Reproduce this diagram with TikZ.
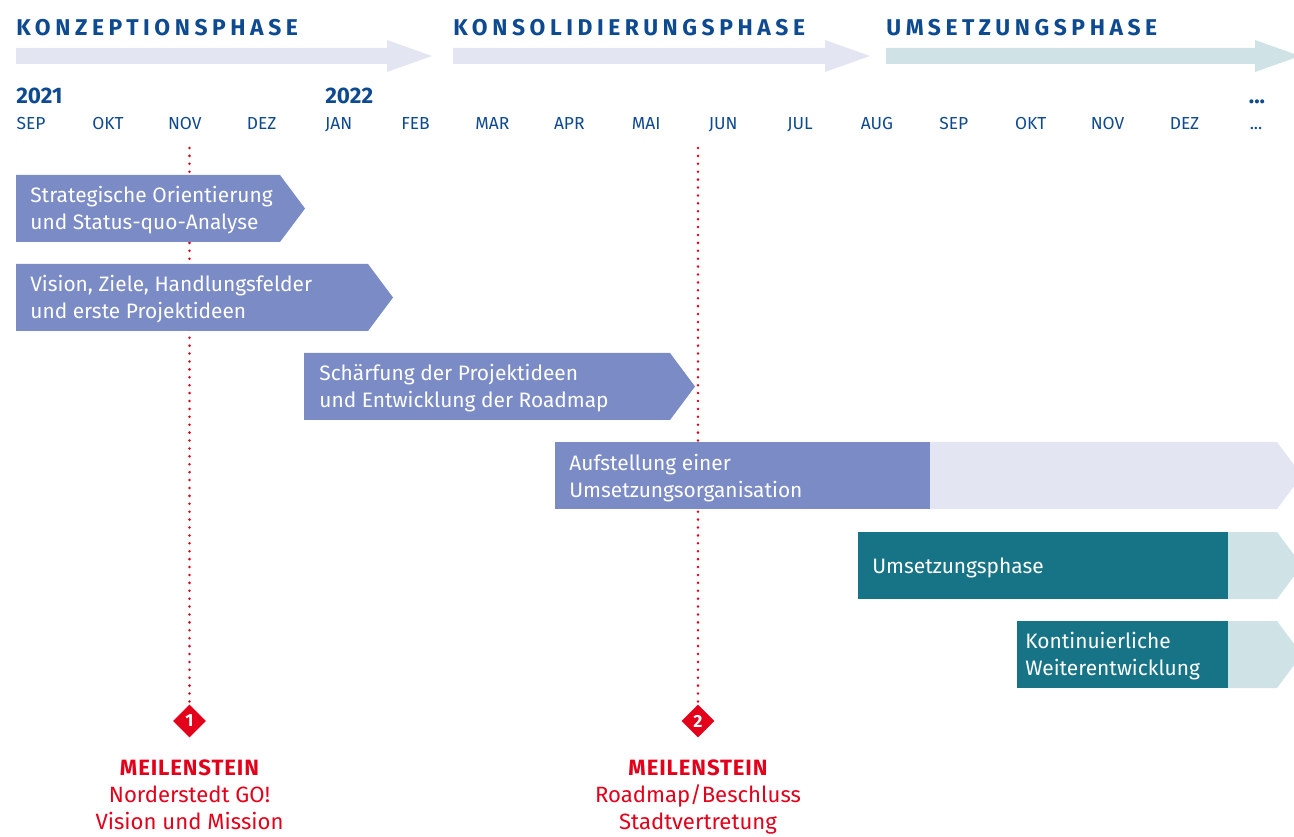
\documentclass[tikz,border=0pt]{standalone}
\usepackage{fontspec}
\setmainfont{Fira Sans}
\newfontfamily\phasefont[LetterSpace=20]{Fira Sans}
\newfontfamily\stonefont[LetterSpace=4]{Fira Sans}
\usetikzlibrary{positioning, shapes.geometric}
\definecolor{kblue}{HTML}{0E4A90}
\definecolor{kred}{HTML}{E2001A}
\definecolor{kpurple}{HTML}{7A8BC6}
\definecolor{klavender}{HTML}{E3E6F2}
\definecolor{kteal}{HTML}{177487}
\definecolor{klightteal}{HTML}{CFE3E7}
\tikzset{
  phaselabel/.style = {
    anchor = base west, inner sep = 0, text = kblue,
    font = \phasefont\bfseries\fontsize{13}{15}\selectfont,
  },
  month/.style = {
    anchor = base, inner sep = 0, text = kblue,
    font = \fontsize{9.9}{12}\selectfont,
  },
  year/.style = {
    anchor = base west, inner sep = 0, text = kblue,
    font = \bfseries\fontsize{12.8}{15}\selectfont,
  },
  bartext/.style = {
    anchor = west, inner sep = 0, align = left, text = white,
    font = \fontsize{11.9}{15.3}\selectfont,
  },
  stone/.style = {
    shape = diamond, fill = kred, minimum size = 18.7pt, inner sep = 0,
    text = white, font = \bfseries\fontsize{10}{11}\selectfont,
  },
  stonetext/.style = {
    anchor = north, inner sep = 0, align = center, text = kred,
    font = \fontsize{12.6}{15.6}\selectfont,
  },
  dotline/.style = {
    draw = kred, line width = 1.6pt, line cap = round,
    dash pattern = on 0pt off 4.5pt,
  }
}
% phase arrow: left, start of head, colour
\newcommand{\phasearrow}[3]{%
  \fill[#3] (#1,48) -- (#2,48) -- (#2,40) -- (#2+45,56) -- (#2,72) -- (#2,64) -- (#1,64) -- cycle;}
% bar with pointed end: left, right of body, top, colour
\newcommand{\chevron}[4]{%
  \fill[#4] (#1,#3) -- (#2,#3) -- ++(25,33.5) -- ++(-25,33.5) -- (#1,#3+67) -- cycle;}

\begin{document}
\begin{tikzpicture}[x = 0.02cm, y = -0.02cm]
  \useasboundingbox (0,0) rectangle (1294,837);
  \clip (0,0) rectangle (1294,837);
  % phases
  \phasearrow{16}{387}{klavender}
  \phasearrow{453}{825}{klavender}
  \phasearrow{886}{1255}{klightteal}
  \node[phaselabel] (konz) at (16,36) {KONZEPTIONSPHASE};
  \node[phaselabel] (kons) at (453,36) {KONSOLIDIERUNGSPHASE};
  \node[phaselabel] (ums) at (886,36) {UMSETZUNGSPHASE};
  % time line
  \node[year] (y21) at (16,104) {2021};
  \node[year] (y22) at (325,104) {2022};
  \node[year, anchor = base] (more) at (1257,104) {...};
  \foreach \m [count = \i from 0] in {SEP, OKT, NOV, DEZ, JAN, FEB, MAR, APR, MAI, JUN, JUL, AUG, SEP, OKT, NOV, DEZ}
    \node[month] (m\i) at ({31 + 76.9*\i}, 130) {\m};
  \node[month] (m16) at (1256,130) {...};
  % milestones
  \node[stone] (ms1) at (189.5,721) {1};
  \node[stone] (ms2) at (698,721) {2};
  \coordinate (t1) at (189.5,148);
  \coordinate (t2) at (698,148);
  \draw[dotline] (t1) -- (ms1.north);
  \draw[dotline] (t2) -- (ms2.north);
  % bars
  \chevron{16}{280}{175}{kpurple}
  \chevron{16}{368}{264}{kpurple}
  \chevron{304}{670}{353}{kpurple}
  \chevron{930}{1277}{442}{klavender}
  \fill[kpurple] (555,442) rectangle (930,509);
  \chevron{1228}{1277}{532}{klightteal}
  \fill[kteal] (858,532) rectangle (1228,599);
  \chevron{1228}{1277}{621}{klightteal}
  \fill[kteal] (1017,621) rectangle (1228,688);
  \node[bartext] (b1) at (30,210.5) {Strategische Orientierung\\und Status-quo-Analyse};
  \node[bartext] (b2) at (30,299.5) {Vision, Ziele, Handlungsfelder\\und erste Projektideen};
  \node[bartext] (b3) at (319,388.5) {Schärfung der Projektideen\\und Entwicklung der Roadmap};
  \node[bartext] (b4) at (569,478) {Aufstellung einer\\Umsetzungsorganisation};
  \node[bartext] (b5) at (872,567.5) {Umsetzungsphase};
  \node[bartext] (b6) at (1025,656.5) {Kontinuierliche\\Weiterentwicklung};
  % milestone labels
  \node[stonetext] (l1) at (189.5,759) {{\stonefont\bfseries MEILENSTEIN}\\Norderstedt GO!\\Vision und Mission};
  \node[stonetext] (l2) at (698,759) {{\stonefont\bfseries MEILENSTEIN}\\Roadmap/Beschluss\\Stadtvertretung};
\end{tikzpicture}
\end{document}
